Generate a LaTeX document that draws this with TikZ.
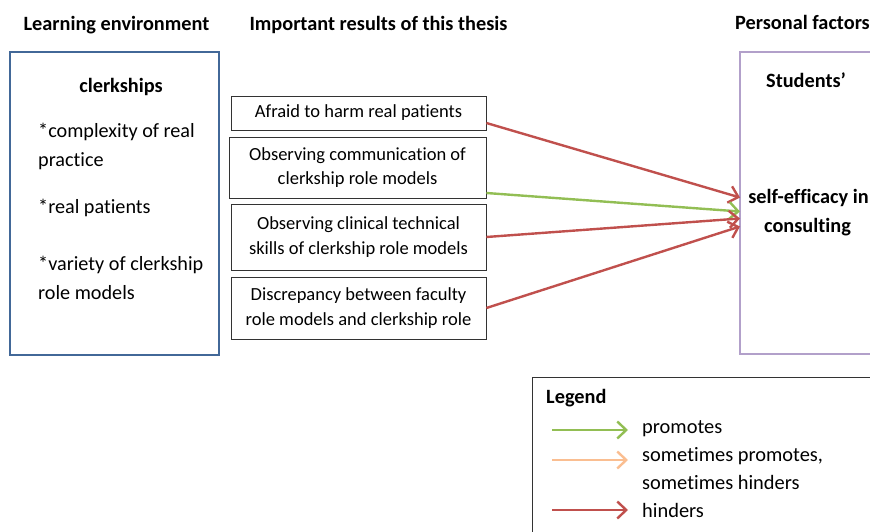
\documentclass[tikz,border=0pt]{standalone}
\usepackage{fontspec}
\setmainfont{Carlito}[Ligatures=NoCommon]
\usetikzlibrary{arrows.meta}

\definecolor{envblue}{RGB}{66,104,152}
\definecolor{perspurple}{RGB}{178,160,202}
\definecolor{promgreen}{RGB}{146,190,84}
\definecolor{hindred}{RGB}{192,80,77}
\definecolor{mixorange}{RGB}{250,190,145}

\tikzset{
  heading/.style={font=\fontsize{20.3}{29}\selectfont\bfseries, inner sep=0pt, anchor=base},
  envtext/.style={font=\fontsize{20.2}{22}\selectfont, inner sep=0pt, anchor=base west},
  result/.style={draw=black!80, line width=0.8pt, minimum width=255pt, align=center,
    inner sep=0pt, font=\fontsize{18.5}{24.5}\selectfont},
  legtext/.style={font=\fontsize{20.4}{22}\selectfont, inner sep=0pt, anchor=base west},
  link/.style={line width=2.4pt, -{Straight Barb[length=9pt,width=17pt,line width=2.4pt]}},
}

\begin{document}
\begin{tikzpicture}[x=1pt, y=-1pt] % one unit = one pixel of the layout
  \useasboundingbox (0,0) rectangle (870,532);
  \clip (0,0) rectangle (870,532);

  % Column headings
  \node[heading] (hleft) at (116.5,31) {Learning environment};
  \node[heading] (hmid) at (378.5,31) {Important results of this thesis};
  \node[heading, anchor=base west] (hright) at (735,30) {Personal factors};

  % Learning environment box
  \node[draw=envblue, line width=2.8pt, minimum width=209pt, minimum height=303pt,
    anchor=north west, inner sep=0pt, outer sep=0pt] (env) at (10,52) {};
  \node[heading] (clerk) at (121,93) {clerkships};
  \node[envtext] (cplx) at (38,138) {*complexity of real};
  \node[envtext] (prac) at (38,167) {practice};
  \node[envtext] (real) at (38,213) {*real patients};
  \node[envtext] (vari) at (38,270) {*variety of clerkship};
  \node[envtext] (role) at (38,299) {role models};

  % Results of the thesis
  \node[result, minimum height=34pt] (afraid) at (358.5,113) {Afraid to harm real patients};
  \node[result, minimum width=257pt, minimum height=61pt] (comm) at (357.5,167.5)
    {Observing communication of\\clerkship role models};
  \node[result, minimum height=66pt] (skill) at (358.5,237)
    {Observing clinical technical\\skills of clerkship role models};
  \node[result, minimum height=62pt] (discr) at (358.5,308)
    {Discrepancy between faculty\\role models and clerkship role};

  % Personal factors box
  \node[draw=perspurple, line width=2.8pt, minimum width=300pt, minimum height=302pt,
    anchor=north west, inner sep=0pt, outer sep=0pt] (pers) at (740,52) {};
  \node[heading] (stud) at (806,88) {Students'};
  \node[heading] (selfeff) at (808.5,203) {self-efficacy in};
  \node[heading] (consult) at (807.5,232) {consulting};

  % Influences
  \draw[link, hindred] ([yshift=-10pt]afraid.east) -- ([yshift=5.5pt]pers.west);
  \draw[link, promgreen] ([yshift=-25.5pt]comm.east) -- ([yshift=-8.5pt]pers.west);
  \draw[link, hindred] (skill.east) -- ([yshift=-15.5pt]pers.west);
  \draw[link, hindred] (discr.east) -- ([yshift=-23.5pt]pers.west);

  % Legend
  \node[draw=black!80, line width=0.8pt, minimum width=400pt, minimum height=200pt,
    anchor=north west, inner sep=0pt, outer sep=0pt] (legend) at (532,377) {};
  \node[heading, anchor=base west] (legtitle) at (546,403) {Legend};
  \coordinate (promA) at (552,430);
  \coordinate (promB) at (628,430);
  \coordinate (mixA) at (552,460);
  \coordinate (mixB) at (628,460);
  \coordinate (hindA) at (552,510);
  \coordinate (hindB) at (628,510);
  \draw[link, promgreen] (promA) -- (promB);
  \draw[link, mixorange] (mixA) -- (mixB);
  \draw[link, hindred] (hindA) -- (hindB);
  \node[legtext] (promtxt) at (642,433) {promotes};
  \node[legtext] (mixtxt1) at (642,461) {sometimes promotes,};
  \node[legtext] (mixtxt2) at (642,489) {sometimes hinders};
  \node[legtext] (hindtxt) at (642,517) {hinders};
\end{tikzpicture}
\end{document}
